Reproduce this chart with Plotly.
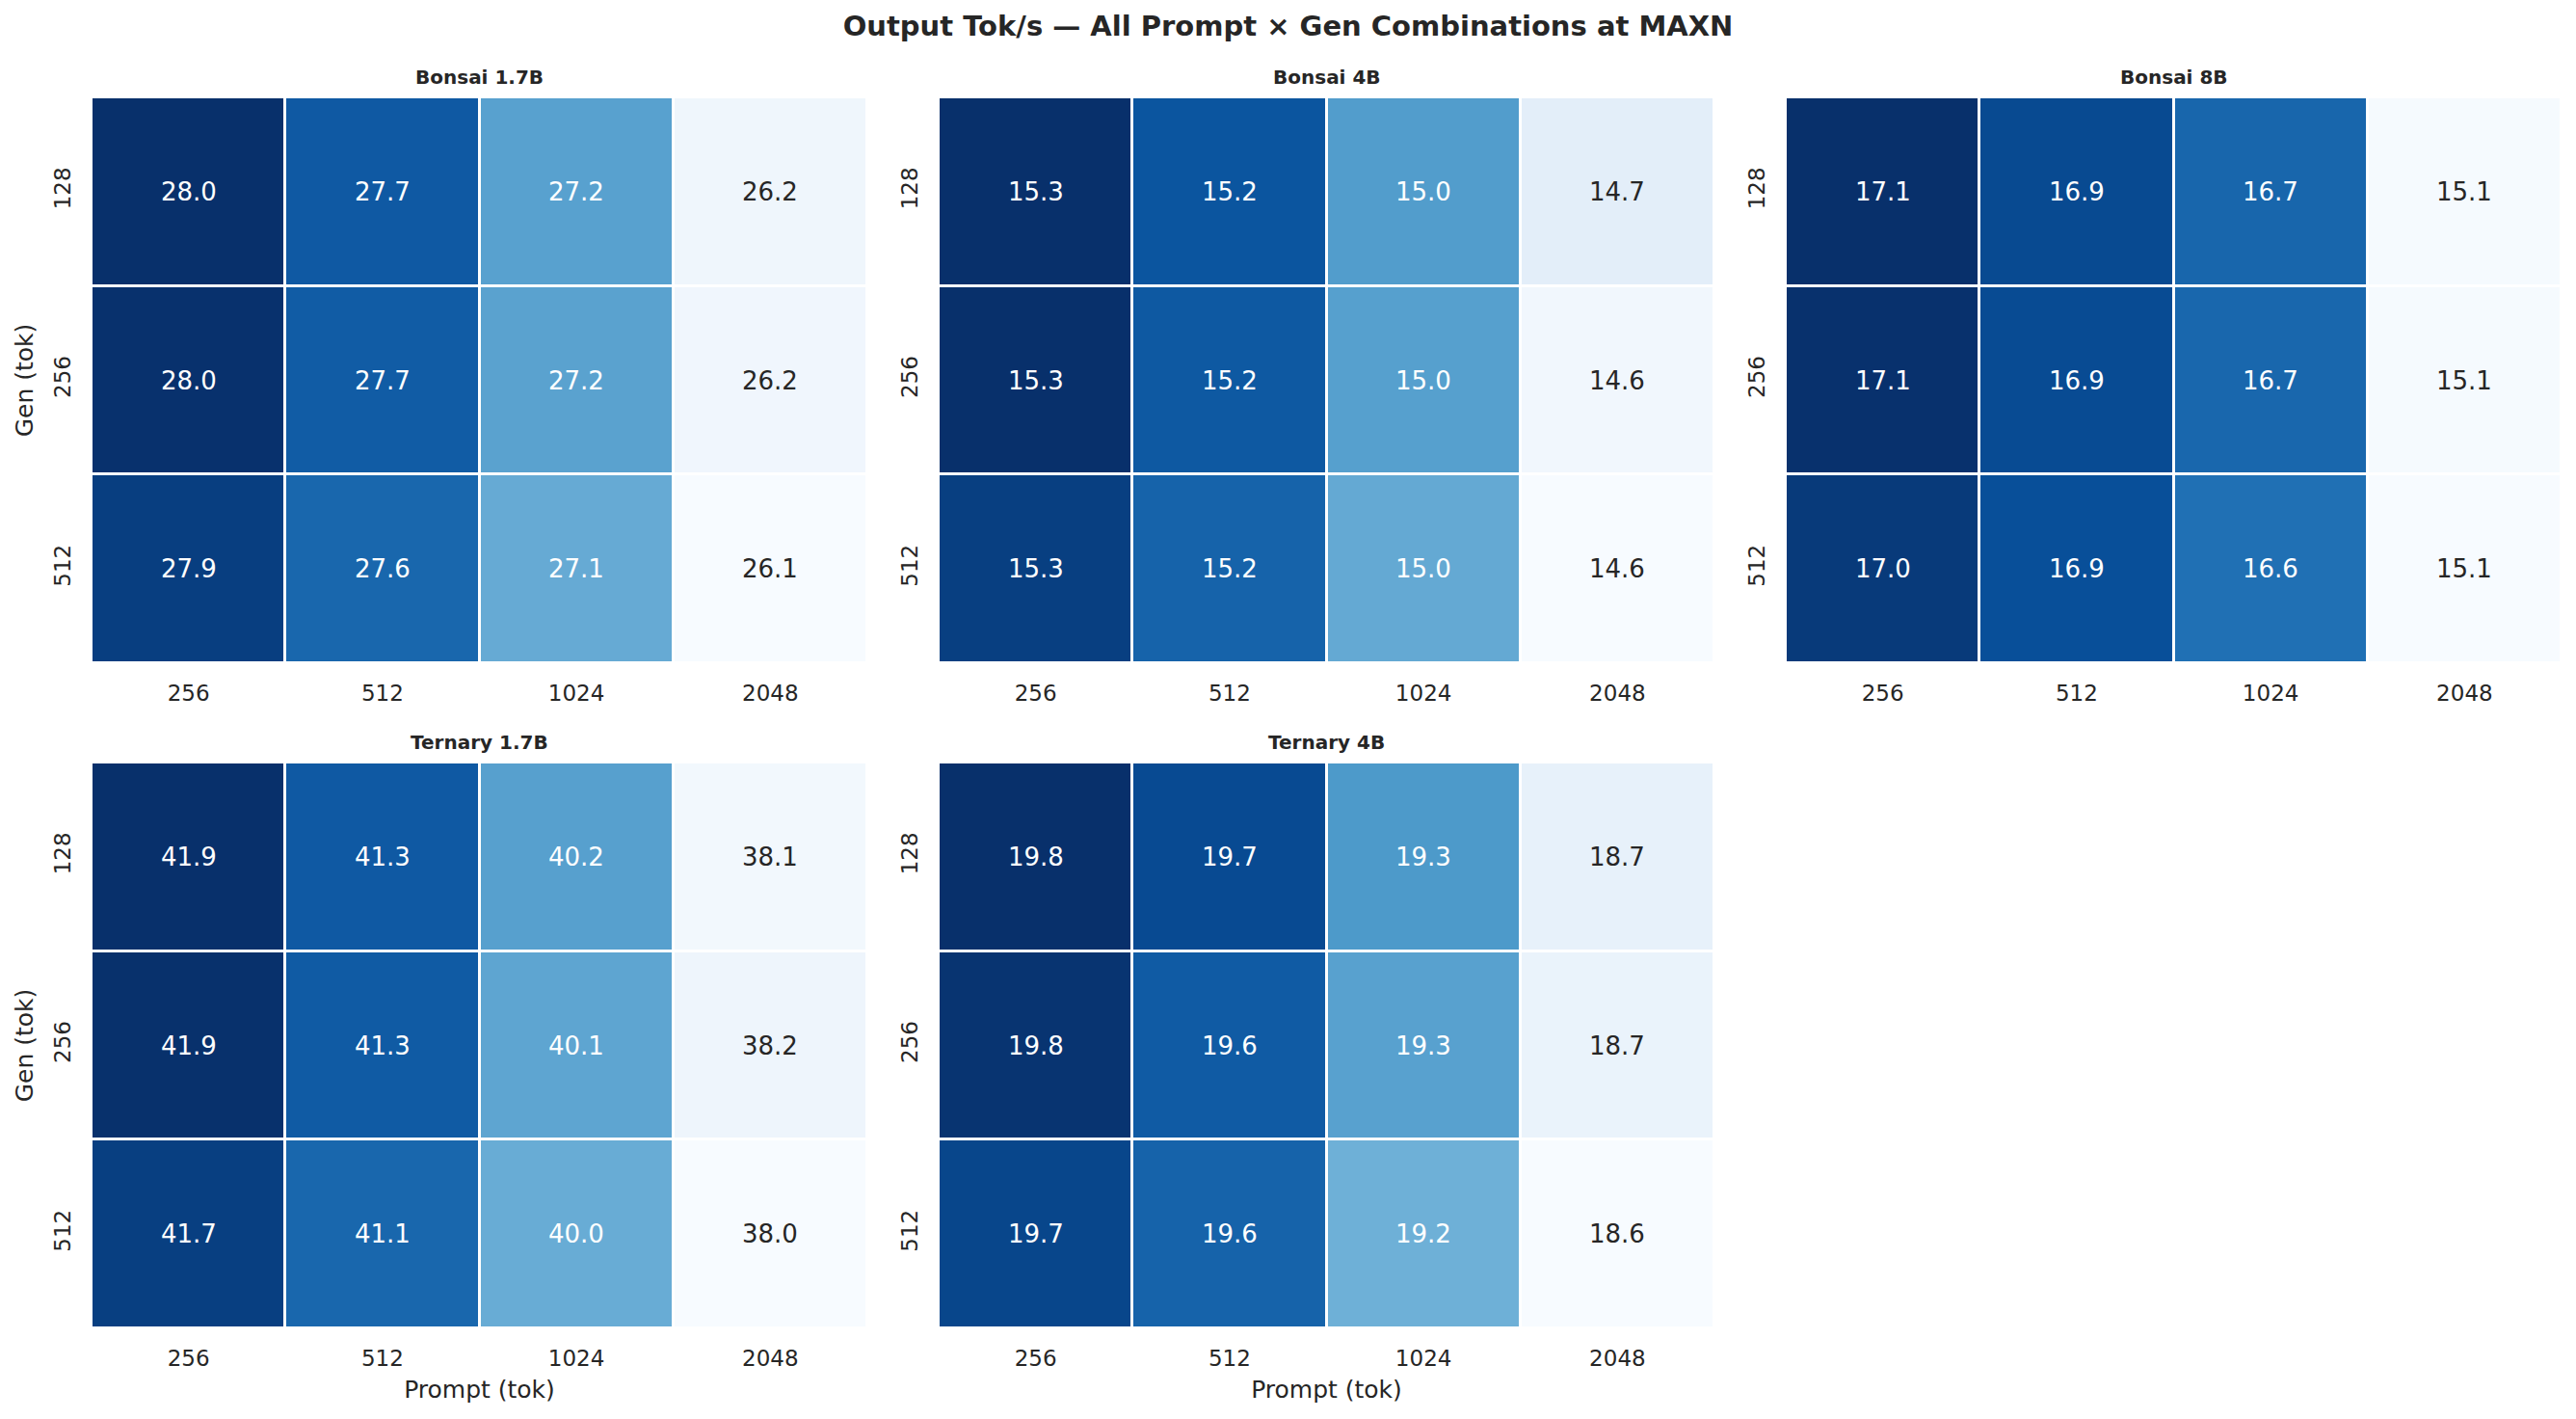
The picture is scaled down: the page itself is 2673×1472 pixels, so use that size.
import plotly.graph_objects as go
import plotly.colors as pc

prompts = ["256", "512", "1024", "2048"]
gens = ["128", "256", "512"]

# tok/s per gen row (128, 256, 512) x prompt col (256..2048)
bonsai_17 = [[28.02, 27.72, 27.18, 26.20],
             [28.01, 27.70, 27.17, 26.19],
             [27.92, 27.62, 27.10, 26.12]]
bonsai_4 = [[15.32, 15.22, 15.02, 14.68],
            [15.32, 15.21, 15.01, 14.63],
            [15.28, 15.18, 14.98, 14.61]]
bonsai_8 = [[17.12, 16.92, 16.70, 15.10],
            [17.11, 16.91, 16.69, 15.10],
            [17.04, 16.88, 16.62, 15.08]]
ternary_17 = [[41.92, 41.30, 40.20, 38.10],
              [41.91, 41.28, 40.12, 38.17],
              [41.70, 41.10, 40.00, 38.00]]
ternary_4 = [[19.82, 19.70, 19.32, 18.70],
             [19.80, 19.62, 19.28, 18.68],
             [19.72, 19.58, 19.20, 18.60]]

models = ["Bonsai 1.7B", "Bonsai 4B", "Bonsai 8B", "Ternary 1.7B", "Ternary 4B"]
tables = [bonsai_17, bonsai_4, bonsai_8, ternary_17, ternary_4]

# page body has an 8px margin, so the figure is drawn a bit smaller and offset
PAD = 8
W, H = 2673 - 2 * PAD, 1472 - 2 * PAD
FONT = "DejaVu Sans"
DARK = "#262626"

blues = list(pc.sequential.Blues)
blues_rgb = [tuple(int(v) for v in c[4:-1].split(",")) for c in blues]

# panel boxes in screen pixels (left, right, top, bottom)
cols_px = [(95, 900), (974, 1779), (1853, 2658)]
rows_px = [(101, 688), (791, 1378)]


def blue_at(t):
    t = min(max(t, 0.0), 1.0) * (len(blues_rgb) - 1)
    i = min(int(t), len(blues_rgb) - 2)
    f = t - i
    a, b = blues_rgb[i], blues_rgb[i + 1]
    return [a[q] + (b[q] - a[q]) * f for q in range(3)]


def lum(rgb):
    lin = []
    for v in rgb:
        v = v / 255
        lin.append(v / 12.92 if v <= 0.03928 else ((v + 0.055) / 1.055) ** 2.4)
    return 0.2126 * lin[0] + 0.7152 * lin[1] + 0.0722 * lin[2]


fig = go.Figure()
annotations = []

for k, (name, z) in enumerate(zip(models, tables)):
    r, c = divmod(k, 3)
    n = "" if k == 0 else str(k + 1)
    zmin = min(min(row) for row in z)
    zmax = max(max(row) for row in z)
    fig.add_trace(go.Heatmap(
        z=z, x=prompts, y=gens,
        colorscale=[[i / (len(blues) - 1), col] for i, col in enumerate(blues)],
        zmin=zmin, zmax=zmax,
        showscale=False, xgap=3, ygap=3, hoverinfo="skip",
        xaxis="x" + n, yaxis="y" + n,
    ))
    l, rr = cols_px[c]
    t, b = rows_px[r]
    xd = [(l - PAD) / W, (rr - PAD) / W]
    yd = [1 - (b - PAD) / H, 1 - (t - PAD) / H]
    fig.update_layout(**{
        "xaxis" + n: dict(
            domain=xd, anchor="y" + n, type="category", automargin=False,
            showgrid=False, zeroline=False, showline=False,
            ticks="outside", ticklen=10, tickcolor="rgba(0,0,0,0)",
            tickfont=dict(size=23, color=DARK, family=FONT),
            title=dict(text="Prompt (tok)" if k >= 3 else "",
                       font=dict(size=25, color=DARK, family=FONT), standoff=11),
        ),
        "yaxis" + n: dict(
            domain=yd, anchor="x" + n, type="category", autorange="reversed",
            automargin=False,
            showgrid=False, zeroline=False, showline=False,
            ticks="outside", ticklen=12, tickcolor="rgba(0,0,0,0)", tickangle=-90,
            tickfont=dict(size=23, color=DARK, family=FONT),
            title=dict(text="Gen (tok)" if c == 0 else "",
                       font=dict(size=25, color=DARK, family=FONT), standoff=10),
        ),
    })
    annotations.append(dict(
        text="<b>" + name + "</b>", x=(xd[0] + xd[1]) / 2, y=yd[1],
        xref="paper", yref="paper", xanchor="center", yanchor="bottom",
        yshift=7, showarrow=False, font=dict(size=20, color=DARK, family=FONT),
    ))
    for i, g in enumerate(gens):
        for j, p in enumerate(prompts):
            v = z[i][j]
            col = blue_at((v - zmin) / (zmax - zmin))
            annotations.append(dict(
                text=f"{v:.1f}", x=j, y=i, xref="x" + n, yref="y" + n,
                showarrow=False,
                font=dict(size=26, family=FONT,
                          color="white" if lum(col) < 0.408 else DARK),
            ))

fig.update_layout(
    width=W, height=H,
    margin=dict(l=0, r=0, t=0, b=0),
    paper_bgcolor="white", plot_bgcolor="white",
    font=dict(family=FONT, color=DARK),
    title=dict(text="<b>Output Tok/s — All Prompt × Gen Combinations at MAXN</b>",
               x=(2673 / 2 - PAD) / W, xanchor="center",
               y=1 - (27 - PAD) / H, yanchor="middle",
               font=dict(size=29, color=DARK, family=FONT)),
    annotations=annotations,
)

fig.write_html("out.html")
